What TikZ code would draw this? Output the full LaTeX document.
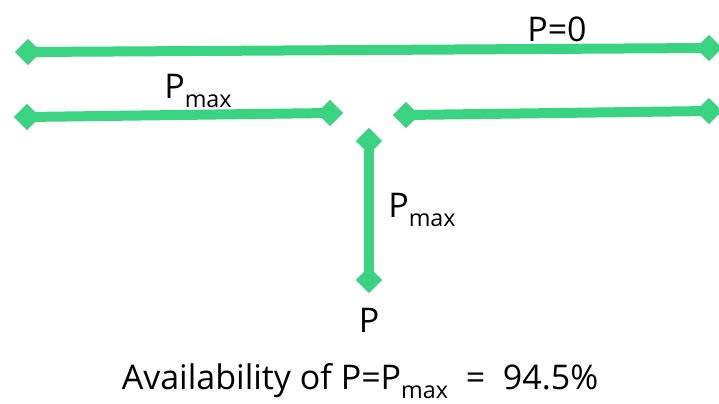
\documentclass[tikz,border=0pt]{standalone}
\usepackage{fontspec}
\setmainfont{Open Sans}
\usetikzlibrary{shapes.geometric,positioning}
\definecolor{linkgreen}{RGB}{58,211,129}
\newcommand{\Pmax}{P\raisebox{-0.5ex}{\fontsize{17.5}{18}\selectfont max}}

\begin{document}
\begin{tikzpicture}[
    x=0.75pt, y=-0.75pt,
    tip/.style={diamond, fill=linkgreen, inner sep=0pt, minimum size=20pt},
    link/.style={draw=linkgreen, line width=7.5pt},
    lbl/.style={font=\fontsize{25.5}{28}\selectfont, inner sep=0pt}
]
    \useasboundingbox (0,0) rectangle (719,404);
    % Top line
    \node[tip] (topL) at (28,52) {};
    \node[tip] (topR) at (709,48) {};
    % Middle left and right
    \node[tip] (midLa) at (27,117) {};
    \node[tip] (midLb) at (330,113) {};
    \node[tip] (midRa) at (406,115) {};
    \node[tip] (midRb) at (709,111) {};
    % Vertical
    \node[tip] (vTop) at (369,141) {};
    \node[tip] (vBot) at (369,280) {};

    % Lines
    \draw[link] (topL.center) -- (topR.center);
    \draw[link] (midLa.center) -- (midLb.center);
    \draw[link] (midRa.center) -- (midRb.center);
    \draw[link] (vTop.center) -- (vBot.center);

    % Labels
    \node[lbl] (pzero) at (557,29) {P=0};
    \node[lbl] (pmaxA) at (198,91) {\Pmax};
    \node[lbl] (pmaxB) at (422,210) {\Pmax};
    \node[lbl, below=21pt of vBot.center] (pout) {P};
    \node[lbl] (avail) at (360,381) {Availability of P=\Pmax\ \ = \ 94.5\%};
\end{tikzpicture}
\end{document}
